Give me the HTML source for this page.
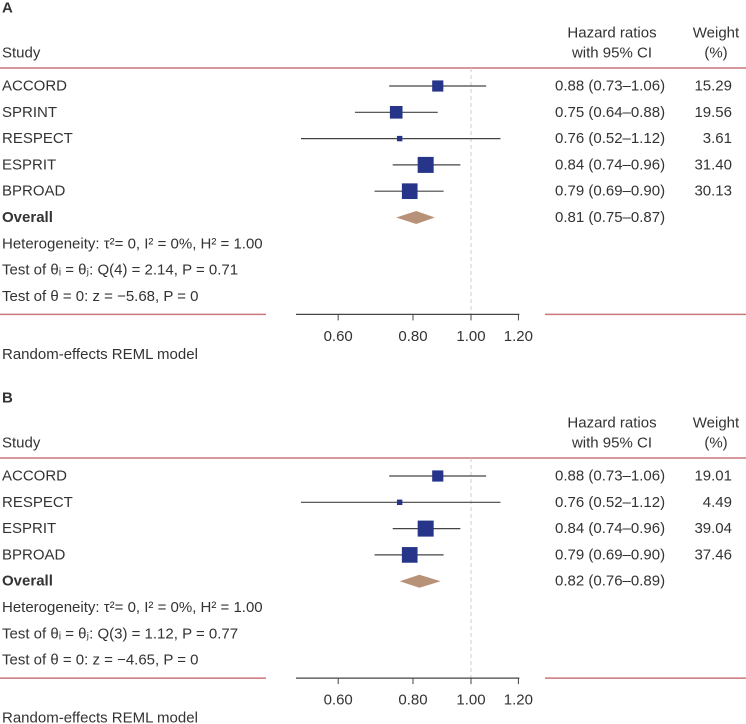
<!DOCTYPE html>
<html><head><meta charset="utf-8">
<style>
html,body{margin:0;padding:0;background:#fff;}
svg{display:block;font-family:"Liberation Sans Narrow","Liberation Sans",sans-serif;}
text{fill:#333;font-size:15px;}
</style></head>
<body>
<svg id="chart" width="746" height="724" viewBox="0 0 746 724"></svg>
<script>
// Panel A data
const studiesA = ["ACCORD","SPRINT","RESPECT","ESPRIT","BPROAD"];
const hrA = [0.88,0.75,0.76,0.84,0.79];
const loA = [0.73,0.64,0.52,0.74,0.69];
const hiA = [1.06,0.88,1.12,0.96,0.90];
const weightA = [15.29,19.56,3.61,31.40,30.13];
const overallA = [0.81,0.75,0.87];
const statsA = ["Heterogeneity: τ²= 0, I² = 0%, H² = 1.00","Test of θᵢ = θⱼ: Q(4) = 2.14, P = 0.71","Test of θ = 0: z = −5.68, P = 0"];
// Panel B data
const studiesB = ["ACCORD","RESPECT","ESPRIT","BPROAD"];
const hrB = [0.88,0.76,0.84,0.79];
const loB = [0.73,0.52,0.74,0.69];
const hiB = [1.06,1.12,0.96,0.90];
const weightB = [19.01,4.49,39.04,37.46];
const overallB = [0.82,0.76,0.89];
const statsB = ["Heterogeneity: τ²= 0, I² = 0%, H² = 1.00","Test of θᵢ = θⱼ: Q(3) = 1.12, P = 0.77","Test of θ = 0: z = −4.65, P = 0"];
const ticks = [0.60,0.80,1.00,1.20];
const axisMin = 0.52, axisMax = 1.20;

const NS="http://www.w3.org/2000/svg";
const svg=document.getElementById('chart');
function xS(v){return 471+260*Math.log(v);}
function mk(tag,attrs,parent){const e=document.createElementNS(NS,tag);for(const k in attrs)e.setAttribute(k,attrs[k]);(parent||svg).appendChild(e);return e;}
function txt(s,x,y,parent,opts){opts=opts||{};const t=mk('text',{x:x,y:y,'text-anchor':opts.anchor||'start','dominant-baseline':'central'},parent);if(opts.bold)t.setAttribute('font-weight','bold');if(opts.size)t.setAttribute('font-size',opts.size);t.textContent=s;return t;}
function f2(v){return v.toFixed(2);}
function ci(a,b,c){return f2(a)+" ("+f2(b)+"–"+f2(c)+")";}

function panel(label,dy,studies,hr,lo,hi,w,ov,stats){
  const g=mk('g',{transform:'translate(0,'+dy+')'});
  
  
  let t=txt(label,2,8,g,{bold:true,size:16});
  
  t=txt("Study",2,53,g);
  t=txt("Hazard ratios",612,33,g,{anchor:'middle'});
  t=txt("with 95% CI",612,53,g,{anchor:'middle'});
  t=txt("Weight",716,33,g,{anchor:'middle'});
  t=txt("(%)",716,53,g,{anchor:'middle'});
  let l=mk('line',{x1:0,x2:746,y1:68,y2:68,stroke:'#c9777a','stroke-width':1.5},g);
  
  const rowY=i=>86+i*26.3;
  const n=studies.length;
  const footY=rowY(n+3)+18;
  l=mk('line',{x1:xS(1),x2:xS(1),y1:68,y2:footY,stroke:'#ccc','stroke-width':1,'stroke-dasharray':'4,3'},g);
  
  const maxW=Math.max(...w);
  for(let i=0;i<n;i++){
    const y=rowY(i);
    t=txt(studies[i],2,y,g);
    l=mk('line',{x1:xS(lo[i]),x2:xS(hi[i]),y1:y,y2:y,stroke:'#444','stroke-width':1.2},g);
    
    const s=16*Math.sqrt(w[i]/maxW);
    const r=mk('rect',{x:xS(hr[i])-s/2,y:y-s/2,width:s,height:s,fill:'#26348a'},g);
    
    t=txt(ci(hr[i],lo[i],hi[i]),555,y,g);
    t=txt(w[i].toFixed(2),732,y,g,{anchor:'end'});
  }
  const oy=rowY(n);
  t=txt("Overall",2,oy,g,{bold:true});
  const d=mk('polygon',{points:xS(ov[1])+','+oy+' '+xS(ov[0])+','+(oy-6.5)+' '+xS(ov[2])+','+oy+' '+xS(ov[0])+','+(oy+6.5),fill:'#b89278'},g);
  
  t=txt(ci(ov[0],ov[1],ov[2]),555,oy,g);
  for(let k=0;k<stats.length;k++){
    t=txt(stats[k],2,rowY(n+1+k),g);
  }
  l=mk('line',{x1:0,x2:266,y1:footY,y2:footY,stroke:'#c9777a','stroke-width':1.5},g);
  
  l=mk('line',{x1:545,x2:746,y1:footY,y2:footY,stroke:'#c9777a','stroke-width':1.5},g);
  
  l=mk('line',{x1:xS(axisMin)-5,x2:xS(axisMax)+1,y1:footY,y2:footY,stroke:'#444','stroke-width':1.2},g);
  
  for(const tv of ticks){
    l=mk('line',{x1:xS(tv),x2:xS(tv),y1:footY,y2:footY+6,stroke:'#444','stroke-width':1},g);
    
    t=txt(f2(tv),xS(tv),footY+22,g,{anchor:'middle'});
  }
  t=txt("Random-effects REML model",2,footY+40,g);
}
panel("A",0,studiesA,hrA,loA,hiA,weightA,overallA,statsA);
panel("B",390,studiesB,hrB,loB,hiB,weightB,overallB,statsB);
</script>
</body></html>
